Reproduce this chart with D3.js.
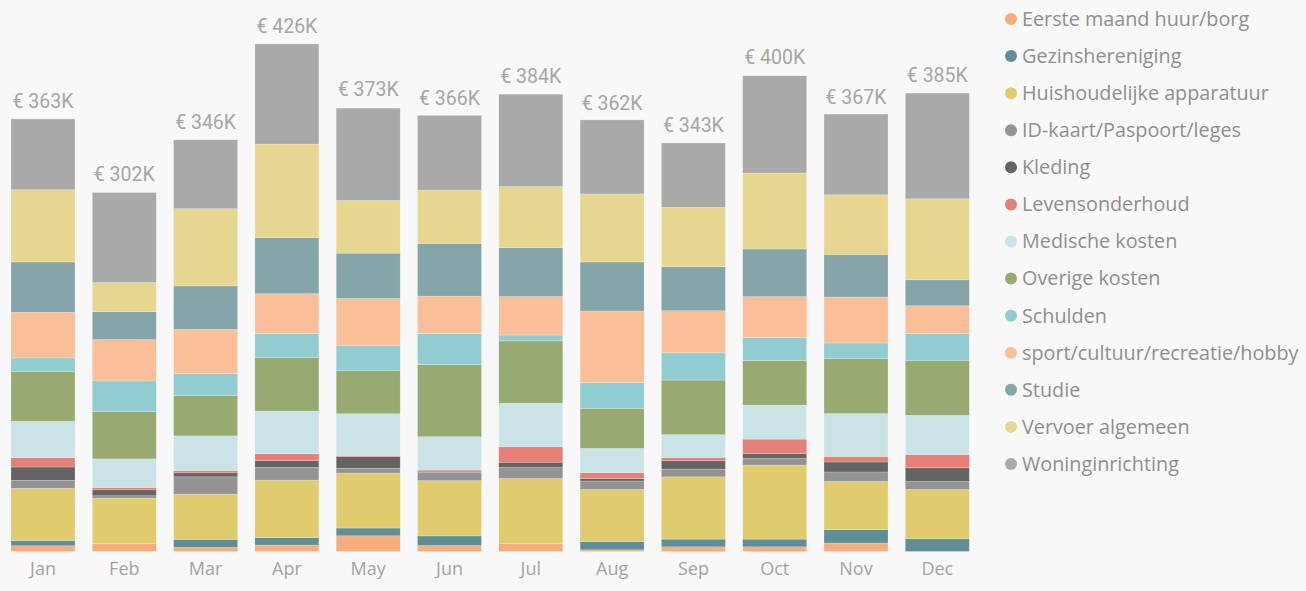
<!DOCTYPE html>
<html>
<head>
<meta charset="utf-8">
<script src="https://cdn.jsdelivr.net/npm/d3@7"></script>
<style>
  html, body { margin: 0; padding: 0; background: #f8f8f8; }
  svg { display: block; }
</style>
</head>
<body>
<svg width="1306" height="591"></svg>
<script>
// Months on the x axis
const months = ["Jan", "Feb", "Mar", "Apr", "May", "Jun", "Jul", "Aug", "Sep", "Oct", "Nov", "Dec"];

// Categories, bottom of the stack first
const categories = [
    "Eerste maand huur/borg",
    "Gezinshereniging",
    "Huishoudelijke apparatuur",
    "ID-kaart/Paspoort/leges",
    "Kleding",
    "Levensonderhoud",
    "Medische kosten",
    "Overige kosten",
    "Schulden",
    "sport/cultuur/recreatie/hobby",
    "Studie",
    "Vervoer algemeen",
    "Woninginrichting"
];

// Values in thousands of euro, one per month
const eersteMaand   = [4.8, 6.5, 3.4, 5.4, 13.2, 5.0, 6.5, 1.4, 3.9, 3.9, 7.1, 0];
const gezin         = [4.5, 0, 6.8, 6.2, 6.5, 8.1, 0, 7.0, 6.5, 6.5, 11.2, 10.7];
const huishoudelijk = [43.7, 38.4, 38.0, 48.3, 46.2, 46.4, 54.8, 43.7, 52.3, 62.2, 40.6, 41.4];
const idKaart       = [6.7, 1.9, 14.5, 10.8, 3.9, 6.7, 9.2, 7.1, 6.5, 5.5, 7.9, 6.7];
const kleding       = [11.3, 5.0, 3.4, 5.7, 9.8, 0.5, 4.5, 2.2, 7.0, 4.2, 8.4, 11.5];
const levens        = [7.8, 1.9, 2.0, 5.7, 1.1, 1.7, 13.1, 4.8, 2.8, 12.1, 4.7, 11.2];
const medisch       = [30.5, 24.1, 29.0, 35.8, 35.0, 28.0, 36.5, 20.4, 19.1, 28.6, 35.9, 32.8];
const overige       = [42.0, 39.7, 34.0, 44.9, 36.1, 60.5, 52.3, 33.6, 45.9, 37.5, 46.4, 45.9];
const schulden      = [11.3, 25.8, 18.2, 20.2, 21.0, 26.3, 5.0, 21.8, 22.9, 19.3, 12.9, 22.7];
const sport         = [38.3, 34.7, 37.2, 33.5, 39.7, 31.3, 32.2, 60.0, 35.3, 34.2, 38.6, 23.5];
const studie        = [42.3, 23.5, 36.6, 47.1, 38.1, 44.3, 41.2, 41.2, 37.0, 40.1, 35.8, 21.8];
const vervoer       = [60.7, 24.4, 64.8, 78.6, 44.2, 44.8, 51.2, 57.1, 49.8, 63.8, 50.1, 68.0];
const woning        = [59.4, 75.6, 57.9, 84.1, 77.6, 62.7, 77.6, 62.2, 54.1, 81.7, 67.8, 88.8];

// Totals as shown above the bars
const totals = [363, 302, 346, 426, 373, 366, 384, 362, 343, 400, 367, 385];

const seriesValues = [eersteMaand, gezin, huishoudelijk, idKaart, kleding, levens, medisch,
    overige, schulden, sport, studie, vervoer, woning];

const colors = ["#f5ad7d", "#5f8e96", "#e0cb6f", "#939393", "#646464", "#e77f79", "#c9e3e7",
    "#99a972", "#91ccd1", "#f8bf98", "#85a5a9", "#e7d690", "#a9a9a9"];

// Build rows for the stack
const rows = months.map((m, i) => {
    const row = {month: m};
    categories.forEach((c, j) => { row[c] = seriesValues[j][i]; });
    return row;
});

const svg = d3.select("svg");

const x = d3.scaleBand()
    .domain(months)
    .range([11, 969.3])
    .paddingInner(0.213)
    .paddingOuter(0);

const y = d3.scaleLinear()
    .domain([0, 430])
    .range([551.5, 551.5 - 430 * 1.1906]);

const color = d3.scaleOrdinal()
    .domain(categories)
    .range(colors);

const stacked = d3.stack().keys(categories)(rows);

// Draw the stacked bars
svg.append("g")
    .selectAll("g")
    .data(stacked)
    .join("g")
    .attr("fill", d => color(d.key))
    .selectAll("rect")
    .data(d => d)
    .join("rect")
    .attr("x", d => x(d.data.month))
    .attr("y", d => y(d[1]))
    .attr("width", x.bandwidth())
    .attr("height", d => Math.max(0, y(d[0]) - y(d[1])))
    .attr("stroke", "#ffffff")
    .attr("stroke-opacity", 0.35)
    .attr("stroke-width", 0.6);

// Totals above each bar
svg.append("g")
    .selectAll("text")
    .data(months)
    .join("text")
    .attr("x", d => x(d) + x.bandwidth() / 2)
    .attr("y", (d, i) => y(totals[i]) - 11)
    .attr("text-anchor", "middle")
    .style("font-family", "Roboto, 'DejaVu Sans', sans-serif")
    .style("font-size", "19.5px")
    .style("fill", "#a6a6a6")
    .text((d, i) => `€ ${totals[i]}K`);

// X axis labels
const xAxis = svg.append("g")
    .attr("transform", `translate(0, ${y(0)})`)
    .call(d3.axisBottom(x).tickSize(0).tickPadding(11));
xAxis.select(".domain").remove();
xAxis.selectAll("text")
    .style("font-family", "'Open Sans', sans-serif")
    .style("font-size", "18px")
    .style("fill", "#a3a3a3");

// Legend on the right
const legend = svg.append("g")
    .attr("transform", "translate(1011, 19)");

const legendItems = legend.selectAll(".legend-item")
    .data(categories)
    .enter()
    .append("g")
    .attr("class", "legend-item")
    .attr("transform", (d, i) => `translate(0, ${i * 37.08})`);

legendItems.append("circle")
    .attr("r", 6)
    .style("fill", d => color(d));

legendItems.append("text")
    .attr("x", 11)
    .attr("dy", "0.35em")
    .style("font-family", "'Open Sans', sans-serif")
    .style("font-size", "19.8px")
    .style("fill", "#8f8f8f")
    .text(d => d);
</script>
</body>
</html>
